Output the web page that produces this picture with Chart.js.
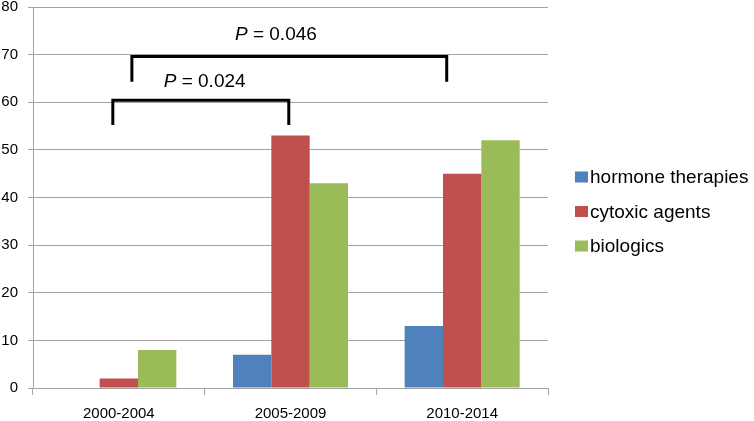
<!DOCTYPE html>
<html>
<head>
<meta charset="utf-8">
<script src="https://cdn.jsdelivr.net/npm/chart.js@4"></script>
<style>
  html, body { margin: 0; padding: 0; background: #fff; }
  #wrap { width: 754px; height: 421px; }
</style>
</head>
<body>
<div id="wrap"><canvas id="chart" width="754" height="421"></canvas></div>
<script>
// periods on the x axis
const periods = ['2000-2004', '2005-2009', '2010-2014'];

// series values
const hormoneTherapies = [0, 7, 13];
const cytoxicAgents = [2, 53, 45];
const biologics = [8, 43, 52];

// y axis ticks
const yMin = 0;
const yMax = 80;
const yStep = 10;

// significance brackets: x in category-index units, y in data units
const bracketLabels = ['0.024', '0.046'];
const bracketFrom = [-0.035, 0.076];
const bracketTo = [0.99, 1.91];
const bracketTop = [60.4, 69.6];
const bracketFoot = [55.2, 64.3];
const bracketTextX = [0.5, 0.915];
const bracketTextY = [64.3, 74.2];

const FONT = "'Liberation Sans', Arial, sans-serif";
const GRID = '#a3a3a3';

// draws the P-value brackets over the bars
const bracketPlugin = {
    id: 'brackets',
    afterDatasetsDraw(chart) {
        const ctx = chart.ctx;
        const x = chart.scales.x;
        const y = chart.scales.y;
        ctx.save();
        ctx.strokeStyle = '#000';
        ctx.lineWidth = 3;
        ctx.lineJoin = 'miter';
        bracketLabels.forEach((p, i) => {
            const x1 = x.getPixelForValue(bracketFrom[i]);
            const x2 = x.getPixelForValue(bracketTo[i]);
            const yt = y.getPixelForValue(bracketTop[i]);
            const yb = y.getPixelForValue(bracketFoot[i]);
            ctx.beginPath();
            ctx.moveTo(x1, yb);
            ctx.lineTo(x1, yt);
            ctx.lineTo(x2, yt);
            ctx.lineTo(x2, yb);
            ctx.stroke();

            // "P = 0.0xx" with italic P
            const cx = x.getPixelForValue(bracketTextX[i]);
            const cy = y.getPixelForValue(bracketTextY[i]);
            ctx.fillStyle = '#000';
            ctx.textBaseline = 'middle';
            ctx.font = 'italic 19px ' + FONT;
            const pW = ctx.measureText('P').width;
            ctx.font = '19px ' + FONT;
            const rest = ' = ' + p;
            const rW = ctx.measureText(rest).width;
            const left = cx - (pW + rW) / 2;
            ctx.textAlign = 'left';
            ctx.font = 'italic 19px ' + FONT;
            ctx.fillText('P', left, cy);
            ctx.font = '19px ' + FONT;
            ctx.fillText(rest, left + pW, cy);
        });
        ctx.restore();
    }
};

// legend in the Excel style: small square right next to the text
const sideLegend = {
    id: 'sideLegend',
    afterDraw(chart) {
        const ctx = chart.ctx;
        const left = chart.chartArea.right + 27;
        const rowGap = 34.5;
        const firstRow = 177;
        ctx.save();
        ctx.font = '19px ' + FONT;
        ctx.textBaseline = 'middle';
        ctx.textAlign = 'left';
        chart.data.datasets.forEach((ds, i) => {
            const cy = firstRow + i * rowGap;
            ctx.fillStyle = ds.backgroundColor;
            ctx.fillRect(left, cy - 5.5, 13, 11);
            ctx.fillStyle = '#000';
            ctx.fillText(ds.label, left + 15, cy + 1);
        });
        ctx.restore();
    }
};

const ctx = document.getElementById('chart').getContext('2d');
new Chart(ctx, {
    type: 'bar',
    data: {
        labels: periods,
        datasets: [
            { label: 'hormone therapies', data: hormoneTherapies, backgroundColor: '#4F81BD' },
            { label: 'cytoxic agents', data: cytoxicAgents, backgroundColor: '#C0504D' },
            { label: 'biologics', data: biologics, backgroundColor: '#9BBB59' }
        ]
    },
    options: {
        responsive: false,
        animation: false,
        layout: { padding: { left: 0, right: 206, top: 7, bottom: 0 } },
        datasets: {
            bar: { categoryPercentage: 0.67, barPercentage: 1.0 }
        },
        plugins: {
            legend: { display: false },
            tooltip: { enabled: false }
        },
        scales: {
            x: {
                grid: {
                    offset: true,
                    drawOnChartArea: false,
                    drawTicks: true,
                    tickLength: 7,
                    color: GRID
                },
                border: { color: GRID, width: 1 },
                ticks: {
                    color: '#000',
                    padding: 10,
                    font: { family: FONT, size: 15 }
                },
                afterFit(axis) { axis.height = 33; }
            },
            y: {
                min: yMin,
                max: yMax,
                ticks: {
                    stepSize: yStep,
                    color: '#000',
                    padding: 10,
                    font: { family: FONT, size: 15 }
                },
                grid: { color: GRID, tickLength: 5 },
                border: { color: GRID, width: 1 },
                afterFit(axis) {
                    axis.width = 33;
                    axis.paddingTop = 0;
                    axis.paddingBottom = 0;
                }
            }
        }
    },
    plugins: [bracketPlugin, sideLegend]
});
</script>
</body>
</html>
